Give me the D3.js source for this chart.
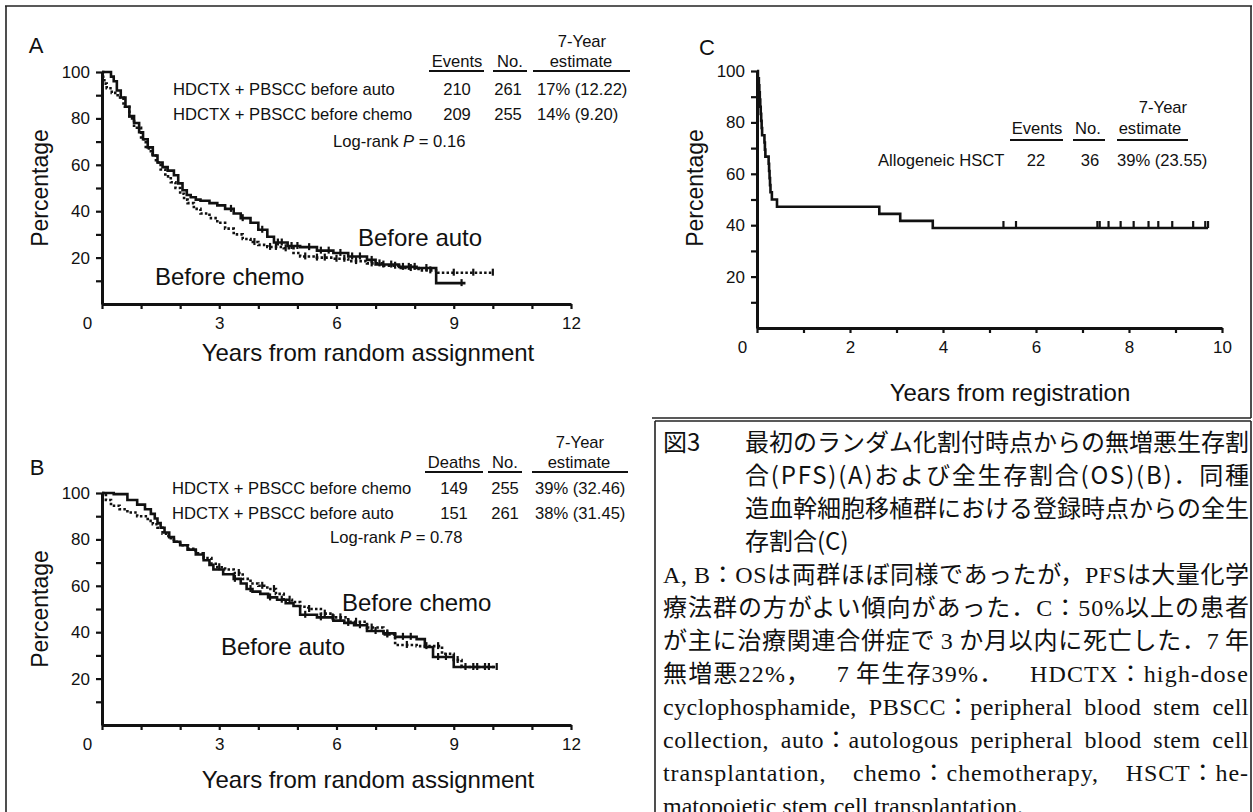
<!DOCTYPE html>
<html>
<head>
<meta charset="utf-8">
<script src="https://cdn.jsdelivr.net/npm/d3@7"></script>
<style>
  body { margin: 0; background: #fff; }
  svg text { font-family: "Liberation Sans", Arial, sans-serif; fill: #111; }
</style>
</head>
<body>
<svg id="fig" width="1253" height="812"></svg>
<script>
// ---- data ----
const pctTicks = d3.range(10, 101, 10);
const yearsAB = d3.range(0, 13);
const yearsC = d3.range(0, 11);

// Kaplan-Meier steps [years, %]
const pfsAuto = [[0,100],[0.23,98],[0.3,96],[0.38,92],[0.48,89],[0.6,85],[0.7,81],[0.82,78],[0.95,74],[1.05,71],[1.17,67.5],[1.3,64],[1.42,61],[1.55,59],[1.68,57.5],[1.84,55.5],[1.95,52],[2.06,49],[2.17,47],[2.27,46],[2.4,45],[2.52,44.5],[2.75,43.5],[2.95,42.5],[3.15,41],[3.37,39],[3.55,37],[3.8,35],[4.0,32],[4.23,29],[4.4,26.5],[4.75,25],[5.07,24.5],[5.5,23],[5.92,22],[6.3,20.5],[6.78,19],[7.0,17],[7.6,16],[8.05,15.5],[8.55,9],[9.3,9]];
const pfsChemo = [[0,100],[0.03,97],[0.06,95],[0.12,93],[0.25,91],[0.4,89],[0.55,85],[0.7,80],[0.82,76],[1.0,71],[1.12,67],[1.25,64.5],[1.38,61],[1.5,58],[1.62,55],[1.76,52.5],[1.88,50],[2.0,47.5],[2.1,45],[2.19,43.5],[2.35,41],[2.52,39],[2.75,37],[2.95,35],[3.15,32.5],[3.37,30],[3.6,28],[3.8,26.7],[4.0,25.5],[4.23,24.6],[4.65,24],[4.9,22],[5.07,20.5],[5.5,20],[5.92,19.5],[6.3,18.5],[6.78,17.5],[7.2,16.5],[7.6,15.5],[8.1,14.5],[8.6,13.5],[10.0,13.5]];
const osAuto = [[0,100],[0.3,99.5],[0.65,97],[0.9,95],[1.1,93],[1.25,91],[1.35,89],[1.42,87],[1.5,85],[1.6,83],[1.72,81],[1.84,79],[2.0,77.5],[2.19,75.6],[2.4,73.5],[2.6,71],[2.75,69],[2.85,67],[3.1,65],[3.37,63],[3.55,61],[3.7,58.6],[3.85,57.5],[4.05,56.5],[4.25,55],[4.48,54],[4.7,52.5],[4.9,51.3],[5.07,47.5],[5.5,46.4],[5.92,45],[6.2,44],[6.45,43],[6.78,40.5],[7.2,39.5],[7.5,38],[8.05,37],[8.26,33.6],[8.47,29.3],[9.0,25],[10.06,25]];
const osChemo = [[0,100],[0.1,97],[0.23,94.5],[0.45,93],[0.65,91.6],[0.9,90],[1.17,88],[1.3,86.5],[1.42,85],[1.55,82.5],[1.7,80.5],[1.84,79],[2.0,77.5],[2.2,76],[2.4,74],[2.6,72],[2.8,69.5],[2.95,68],[3.15,67],[3.37,65.5],[3.6,63],[3.8,61],[4.0,60],[4.23,58.6],[4.45,56.5],[4.65,54],[4.86,53],[5.07,51],[5.28,50],[5.6,48],[5.92,46.4],[6.3,44.5],[6.78,42],[7.2,39],[7.5,34.5],[8.05,34],[8.7,30.7],[9.0,28],[9.2,25],[10.1,25]];
const osAllo = [[0,100],[0.02,97.2],[0.04,94.4],[0.05,91.7],[0.06,88.9],[0.07,86.1],[0.08,83.3],[0.09,80.6],[0.1,77.8],[0.11,75],[0.16,72.2],[0.17,69.4],[0.18,66.7],[0.25,63.9],[0.26,61.1],[0.27,58.3],[0.28,55.6],[0.29,52.8],[0.32,50],[0.43,47.2],[2.63,44.4],[3.08,41.7],[3.78,38.9],[9.7,38.9]];

// censored observations (years)
const censPfsAuto = [3.3,3.6,4.1,4.5,4.6,4.85,5.0,5.3,5.6,5.8,6.1,6.4,6.6,6.9,7.2,7.4,7.7,7.85,8.0,8.3,9.2];
const censPfsChemo = [3.9,4.3,4.45,4.7,5.2,5.5,5.7,6.0,6.2,6.5,6.9,7.1,7.5,7.9,8.4,9.0,9.5,10.0];
const censOsAuto = [3.4,3.8,4.3,4.6,5.2,5.6,5.9,6.3,6.6,7.0,7.3,7.7,7.9,8.6,8.8,9.3,9.6,9.9];
const censOsChemo = [3.0,3.5,4.1,4.4,4.8,5.3,5.7,6.1,6.5,6.9,7.3,7.8,8.3,8.6,9.1,9.5,9.8,10.1];
const censAllo = [5.3,5.57,7.32,7.37,7.56,7.82,8.1,8.42,8.63,8.93,9.38,9.64,9.7];

// legend tables
const legendA = {
  cols: ["Events", "No."],
  rows: [["HDCTX + PBSCC before auto", "210", "261", "17% (12.22)"],
         ["HDCTX + PBSCC before chemo", "209", "255", "14% (9.20)"]],
  pValue: "0.16"
};
const legendB = {
  cols: ["Deaths", "No."],
  rows: [["HDCTX + PBSCC before chemo", "149", "255", "39% (32.46)"],
         ["HDCTX + PBSCC before auto", "151", "261", "38% (31.45)"]],
  pValue: "0.78"
};
const legendC = {
  cols: ["Events", "No."],
  rows: [["Allogeneic HSCT", "22", "36", "39% (23.55)"]]
};

const figNo = "図3";
const captionTitle = [
  "最初のランダム化割付時点からの無増悪生存割",
  "合(PFS)(A)および全生存割合(OS)(B)．同種",
  "造血幹細胞移植群における登録時点からの全生",
  "存割合(C)"
];
const captionBody = [
  "A, B：OSは両群ほぼ同様であったが，PFSは大量化学",
  "療法群の方がよい傾向があった．C：50%以上の患者",
  "が主に治療関連合併症で\u20093\u2009か月以内に死亡した．7\u2009年",
  "無増悪22%， 7\u2009年生存39%． HDCTX：high-dose",
  "cyclophosphamide, PBSCC：peripheral blood stem cell",
  "collection, auto：autologous peripheral blood stem cell",
  "transplantation, chemo：chemotherapy, HSCT：he-",
  "matopoietic stem cell transplantation."
];

// ---- drawing ----
const svg = d3.select("#fig");

// frame lines
const frame = [
  [5, 6, 1252, 6], [6, 6, 6, 812], [1251, 6, 1251, 418], [652, 418, 1251, 418],
  [655, 421, 1251, 421], [655, 421, 655, 812], [1251, 421, 1251, 812]
];
svg.append("g").selectAll("line").data(frame).join("line")
  .attr("x1", d => d[0]).attr("y1", d => d[1]).attr("x2", d => d[2]).attr("y2", d => d[3])
  .attr("stroke", "#222").attr("stroke-width", 1.6);

function valueAt(steps, t) {
  let v = steps[0][1];
  for (const s of steps) { if (s[0] <= t) v = s[1]; }
  return v;
}

function drawPanel(o) {
  const x = d3.scaleLinear().domain([0, o.xMax]).range([o.left, o.right]);
  const y = d3.scaleLinear().domain([0, 100]).range([o.bottom, o.top]);
  const g = svg.append("g");

  const ya = g.append("g")
    .attr("transform", `translate(${o.left},0)`)
    .call(d3.axisLeft(y).tickValues(pctTicks).tickFormat(d => d % 20 ? "" : d)
      .tickSize(6).tickSizeOuter(0).tickPadding(6));
  const xa = g.append("g")
    .attr("transform", `translate(0,${o.bottom})`)
    .call(d3.axisBottom(x).tickValues(o.xTicks).tickFormat(d => d % o.every ? "" : d)
      .tickSize(5).tickSizeOuter(0).tickPadding(8));

  [ya, xa].forEach(a => {
    a.attr("font-size", 17).attr("font-family", "Liberation Sans, Arial, sans-serif");
    a.select(".domain").attr("stroke", "#111").attr("stroke-width", 3);
    a.selectAll(".tick line").attr("stroke", "#111").attr("stroke-width", 2.2);
    a.selectAll(".tick text").attr("fill", "#111");
  });
  xa.selectAll(".tick text").filter(d => d === 0).attr("dx", -15);

  // panel letter
  g.append("text").attr("x", o.letterX).attr("y", o.letterY).attr("dy", "0.35em")
    .attr("text-anchor", "middle").attr("font-size", 22).text(o.letter);

  // axis titles
  g.append("text")
    .attr("transform", `translate(${o.left - 62},${o.pctY}) rotate(-90)`)
    .attr("text-anchor", "middle").attr("dy", "0.35em").attr("font-size", 23)
    .text("Percentage");
  g.append("text").attr("x", o.titleX).attr("y", o.titleY).attr("dy", "0.35em")
    .attr("text-anchor", "middle").attr("font-size", 24).text(o.title);

  const line = d3.line().x(d => x(d[0])).y(d => y(d[1])).curve(d3.curveStepAfter);

  o.curves.forEach(c => {
    g.append("path").datum(c.steps)
      .attr("d", line).attr("fill", "none").attr("stroke", "#111")
      .attr("stroke-width", 2.6)
      .attr("stroke-dasharray", c.dotted ? "2.5,2.2" : null);
    g.append("g").selectAll("line").data(c.cens).join("line")
      .attr("x1", t => x(t)).attr("x2", t => x(t))
      .attr("y1", t => y(valueAt(c.steps, t)) - o.censUp)
      .attr("y2", t => y(valueAt(c.steps, t)) + o.censDown)
      .attr("stroke", "#111").attr("stroke-width", 2.2);
  });

  (o.labels || []).forEach(l => {
    g.append("text").attr("x", l.x).attr("y", l.y).attr("dy", "0.35em")
      .attr("font-size", 24).text(l.text);
  });
}

function drawLegend(lg, o) {
  const g = svg.append("g").attr("font-size", 16.6);
  const t = (x, y, s, anchor) => g.append("text").attr("x", x).attr("y", y)
    .attr("dy", "0.35em").attr("text-anchor", anchor || "start").text(s);
  t(o.estX, o.topY, "7-Year", "middle");
  t(o.estX - (o.estShift || 0), o.hdrY, "estimate", "middle");
  t(o.colX[0], o.hdrY, lg.cols[0], "middle");
  t(o.colX[1], o.hdrY, lg.cols[1], "middle");
  g.selectAll("line").data(o.rules).join("line")
    .attr("x1", d => d[0]).attr("x2", d => d[1])
    .attr("y1", o.ruleY).attr("y2", o.ruleY)
    .attr("stroke", "#111").attr("stroke-width", 2);
  lg.rows.forEach((r, i) => {
    const yy = o.rowY[i];
    t(o.labelX, yy, r[0]);
    t(o.valX[0], yy, r[1], "middle");
    t(o.valX[1], yy, r[2], "middle");
    t(o.valX[2], yy, r[3]);
  });
  if (lg.pValue) {
    const p = g.append("text").attr("x", o.pX).attr("y", o.pY).attr("dy", "0.35em");
    p.append("tspan").text("Log-rank ");
    p.append("tspan").attr("font-style", "italic").text("P");
    p.append("tspan").text(" = " + lg.pValue);
  }
}

drawPanel({
  left: 102, right: 571, top: 72, bottom: 304, xMax: 12, xTicks: yearsAB, every: 3,
  letter: "A", letterX: 36, letterY: 45, pctY: 188,
  title: "Years from random assignment", titleX: 368, titleY: 353,
  censUp: 4, censDown: 3,
  curves: [{ steps: pfsAuto, cens: censPfsAuto, dotted: false },
           { steps: pfsChemo, cens: censPfsChemo, dotted: true }],
  labels: [{ x: 358, y: 238, text: "Before auto" }, { x: 155, y: 277, text: "Before chemo" }]
});

drawPanel({
  left: 102, right: 571, top: 493, bottom: 725, xMax: 12, xTicks: yearsAB, every: 3,
  letter: "B", letterX: 37, letterY: 467, pctY: 609,
  title: "Years from random assignment", titleX: 368, titleY: 780,
  censUp: 4, censDown: 3,
  curves: [{ steps: osAuto, cens: censOsAuto, dotted: false },
           { steps: osChemo, cens: censOsChemo, dotted: true }],
  labels: [{ x: 342, y: 603, text: "Before chemo" }, { x: 221, y: 647, text: "Before auto" }]
});

drawPanel({
  left: 757, right: 1222, top: 71, bottom: 328, xMax: 10, xTicks: yearsC, every: 2,
  letter: "C", letterX: 707, letterY: 47, pctY: 188,
  title: "Years from registration", titleX: 1010, titleY: 393,
  censUp: 7, censDown: 0,
  curves: [{ steps: osAllo, cens: censAllo, dotted: false }]
});

drawLegend(legendA, {
  estX: 582, estShift: 1, topY: 41, hdrY: 61, colX: [457, 510], ruleY: 71,
  rules: [[429, 484], [493, 527], [533, 630]],
  rowY: [89, 114], labelX: 173, valX: [457, 508, 537], pX: 333, pY: 141
});
drawLegend(legendB, {
  estX: 580, estShift: 1, topY: 442, hdrY: 462, colX: [454, 505], ruleY: 472,
  rules: [[425, 483], [488, 522], [532, 628]],
  rowY: [488, 513], labelX: 172, valX: [454, 505, 535], pX: 330, pY: 537
});
drawLegend(legendC, {
  estX: 1163, estShift: 13, topY: 107, hdrY: 128, colX: [1037, 1088], ruleY: 140,
  rules: [[1010, 1063], [1073, 1105], [1117, 1188]],
  rowY: [160], labelX: 878, valX: [1036, 1090, 1117]
});

// caption: each printed line is stretched to the column width
const capG = svg.append("g").attr("font-size", 24);
const gothic = "'Noto Sans CJK JP', sans-serif";
const mincho = "'Liberation Serif', 'Noto Sans CJK JP', serif";
const lineH = 33, cap0 = 443;

function capLine(s, x, y, family, target, mode) {
  const t = capG.append("text").attr("x", x).attr("y", y).attr("dy", "0.35em")
    .style("font-family", family).text(s);
  if (!target) return;
  const extra = target - t.node().getComputedTextLength();
  const nChars = [...s].length - 1;
  const nSpaces = (s.match(/ /g) || []).length;
  if (mode === "mixed" && nSpaces > 0) {
    // half of the slack between letters, half at the word gaps
    t.style("letter-spacing", (extra / 2 / nChars) + "px");
    const rest = target - t.node().getComputedTextLength();
    t.style("word-spacing", (rest / nSpaces) + "px");
  } else {
    t.style("letter-spacing", (extra / nChars) + "px");
  }
}

capLine(figNo, 663, cap0, gothic);
captionTitle.forEach((s, i) => {
  capLine(s, 745, cap0 + i * lineH, gothic, i < 3 ? 504 : 0, "letter");
});
captionBody.forEach((s, i) => {
  const mode = i >= 3 ? "mixed" : "letter";
  capLine(s, 663, cap0 + (i + 4) * lineH, mincho, i < captionBody.length - 1 ? 586 : 0, mode);
});
</script>
</body>
</html>
